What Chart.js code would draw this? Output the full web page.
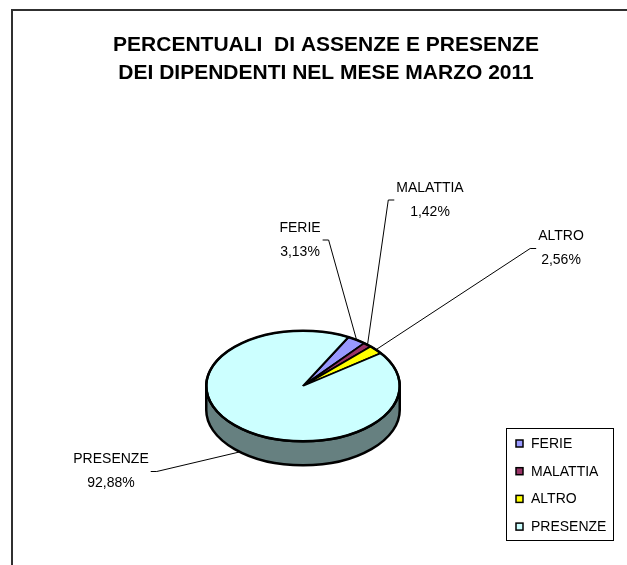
<!DOCTYPE html>
<html lang="it">

<head>
    <meta charset="UTF-8">
    <title>Assenze e presenze - marzo 2011</title>
    <script src="https://cdn.jsdelivr.net/npm/chart.js"></script>
    <style>
        body {
            margin: 0;
            background: #fff;
        }

        canvas {
            display: block;
        }
    </style>
</head>

<body>
    <canvas id="pieChart" width="627" height="565"></canvas>

    <script>
        // Dati del grafico
        const categories = ["FERIE", "MALATTIA", "ALTRO", "PRESENZE"];
        const percents = [3.13, 1.42, 2.56, 92.88];
        const titleLines = ["PERCENTUALI  DI ASSENZE E PRESENZE", "DEI DIPENDENTI NEL MESE MARZO 2011"];

        // Stile
        const sliceColors = ["#9999FF", "#993366", "#FFFF00", "#CCFFFF"];
        const sideColor = "#668080";
        const fontFamily = "'Liberation Sans', Arial, sans-serif";
        const squash = 0.572;   // rapporto asse verticale / orizzontale
        const depth = 24;       // spessore del disco

        // Posizione delle etichette (centro testo, lato del testo rispetto alla linea guida)
        const calloutSpots = [
            { x: 300, y: 240, side: "left" },
            { x: 430, y: 200, side: "right" },
            { x: 561, y: 248.5, side: "right" },
            { x: 111, y: 471.5, side: "left" }
        ];

        const fmtPct = v => v.toFixed(2).replace(".", ",") + "%";

        // Cornice e titolo
        const frameTitle = {
            id: "frameTitle",
            beforeDraw(chart) {
                const ctx = chart.ctx;
                ctx.save();
                ctx.fillStyle = "#fff";
                ctx.fillRect(0, 0, chart.width, chart.height);
                ctx.strokeStyle = "#303030";
                ctx.lineWidth = 2;
                ctx.strokeRect(12, 10, chart.width + 20, chart.height + 20);

                ctx.fillStyle = "#000";
                ctx.font = "bold 21px " + fontFamily;
                ctx.textAlign = "center";
                ctx.textBaseline = "alphabetic";
                titleLines.forEach((line, i) => ctx.fillText(line, 326, 51 + i * 28));
                ctx.restore();
            }
        };

        // Effetto 3D: fianco del disco + schiacciamento verticale
        const pie3d = {
            id: "pie3d",
            beforeDatasetsDraw(chart) {
                const arc = chart.getDatasetMeta(0).data[0];
                const { x, y, outerRadius } = arc;
                const ry = outerRadius * squash;
                const ctx = chart.ctx;

                ctx.save();
                ctx.beginPath();
                ctx.ellipse(x, y + depth, outerRadius, ry, 0, 0, Math.PI);
                ctx.lineTo(x - outerRadius, y);
                ctx.ellipse(x, y, outerRadius, ry, 0, Math.PI, 0, true);
                ctx.closePath();
                ctx.fillStyle = sideColor;
                ctx.fill();
                ctx.strokeStyle = "#000";
                ctx.lineWidth = 2.5;
                ctx.stroke();
                ctx.restore();

                ctx.save();
                ctx.translate(x, y);
                ctx.scale(1, squash);
                ctx.translate(-x, -y);
            },
            afterDatasetsDraw(chart) {
                const ctx = chart.ctx;
                ctx.restore();
                const { x, y, outerRadius } = chart.getDatasetMeta(0).data[0];
                ctx.save();
                ctx.beginPath();
                ctx.ellipse(x, y, outerRadius, outerRadius * squash, 0, 0, Math.PI * 2);
                ctx.strokeStyle = "#000";
                ctx.lineWidth = 2.5;
                ctx.stroke();
                ctx.restore();
            }
        };

        // Etichette con linee guida e legenda
        const calloutsLegend = {
            id: "calloutsLegend",
            afterDraw(chart) {
                const ctx = chart.ctx;
                const arcs = chart.getDatasetMeta(0).data;
                ctx.save();
                ctx.font = "14px " + fontFamily;
                ctx.textAlign = "center";
                ctx.textBaseline = "middle";
                ctx.fillStyle = "#000";
                ctx.strokeStyle = "#000";
                ctx.lineWidth = 1;

                arcs.forEach((arc, i) => {
                    const mid = (arc.startAngle + arc.endAngle) / 2;
                    const ax = arc.x + arc.outerRadius * Math.cos(mid);
                    let ay = arc.y + arc.outerRadius * squash * Math.sin(mid);
                    if (Math.sin(mid) > 0) ay += depth;

                    const spot = calloutSpots[i];
                    const w = Math.max(ctx.measureText(categories[i]).width, ctx.measureText(fmtPct(percents[i])).width);
                    const dir = spot.side === "left" ? 1 : -1;
                    const inner = spot.x + dir * (w / 2 + 2);
                    const outer = inner + dir * 6;

                    ctx.beginPath();
                    ctx.moveTo(ax, ay);
                    ctx.lineTo(outer, spot.y);
                    ctx.lineTo(inner, spot.y);
                    ctx.stroke();

                    ctx.fillText(categories[i], spot.x, spot.y - 12);
                    ctx.fillText(fmtPct(percents[i]), spot.x, spot.y + 12);
                });

                // legenda
                ctx.strokeRect(506.5, 428.5, 107, 112);
                ctx.font = "14px " + fontFamily;
                ctx.textAlign = "left";
                categories.forEach((name, i) => {
                    const iy = 444 + i * 27.7;
                    ctx.fillStyle = sliceColors[i];
                    ctx.fillRect(516, iy - 4, 7, 7);
                    ctx.lineWidth = 1.5;
                    ctx.strokeRect(516, iy - 4, 7, 7);
                    ctx.fillStyle = "#000";
                    ctx.fillText(name, 531, iy);
                });
                ctx.restore();
            }
        };

        new Chart(document.getElementById("pieChart"), {
            type: "pie",
            data: {
                labels: categories,
                datasets: [{
                    data: percents,
                    backgroundColor: sliceColors,
                    borderColor: "#000",
                    borderWidth: 2.5
                }]
            },
            options: {
                responsive: false,
                animation: false,
                events: [],
                rotation: 28,
                layout: {
                    padding: { left: 205, right: 226, top: 288, bottom: 81 }
                },
                plugins: {
                    legend: { display: false },
                    title: { display: false },
                    tooltip: { enabled: false }
                }
            },
            plugins: [frameTitle, pie3d, calloutsLegend]
        });
    </script>
</body>

</html>
